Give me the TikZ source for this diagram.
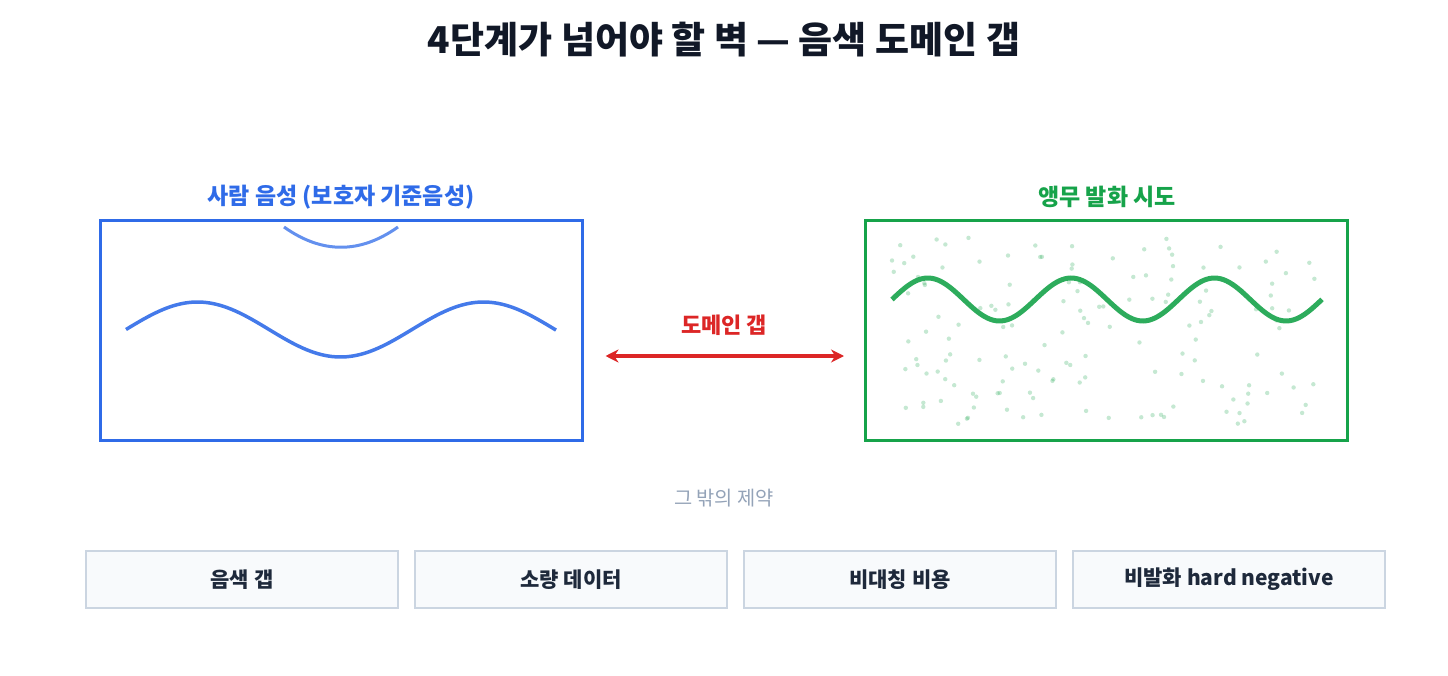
\documentclass[tikz,border=0pt]{standalone}
\usepackage{fontspec}
\setmainfont{Noto Sans CJK KR}
\usetikzlibrary{arrows.meta}

\definecolor{titletext}{HTML}{111827}
\definecolor{humanblue}{HTML}{2F6BE8}
\definecolor{parrotgreen}{HTML}{16A34A}
\definecolor{gapred}{HTML}{DC2626}
\definecolor{mutedgray}{HTML}{94A3B8}
\definecolor{limitfill}{HTML}{F8FAFC}
\definecolor{limitline}{HTML}{CBD5E1}
\definecolor{limittext}{HTML}{1E293B}

\tikzset{
  panel/.style={draw, rectangle, line width=3pt, minimum width=482pt, minimum height=219pt},
  panellabel/.style={font=\fontsize{23}{27}\selectfont\bfseries},
  limitbox/.style={draw=limitline, fill=limitfill, line width=2pt, rectangle,
    minimum width=312pt, minimum height=57pt, text=limittext,
    font=\fontsize{21}{25}\selectfont\bfseries},
  noise/.style={fill=parrotgreen, opacity=0.25}
}

\begin{document}
\begin{tikzpicture}[x=1pt, y=-1pt]
\useasboundingbox (0,0) rectangle (1448,676);

% Title
\node[text=titletext, font=\fontsize{37}{44}\selectfont\bfseries] (title) at (724,40) {4단계가 넘어야 할 벽 — 음색 도메인 갭};

% Human voice
\node[panel, draw=humanblue] (lbox) at (341,330.5) {};
\node[panellabel, text=humanblue] (llabel) at (341,197) {사람 음성 (보호자 기준음성)};
\draw[humanblue!75, line width=3pt] (284,227) .. controls (322,254) and (360,254) .. (398,227);
\draw[humanblue!90!white, line width=3.5pt, smooth, samples=120, domain=126:556]
  plot (\x, {329.5-27.5*sin(1.2587*(\x-126))});

% Parrot attempt
\node[panel, draw=parrotgreen] (rbox) at (1106.5,330.5) {};
\node[panellabel, text=parrotgreen] (rlabel) at (1107,197) {앵무 발화 시도};
\pgfmathsetseed{7}
\foreach \i in {1,...,150} {
  \pgfmathsetmacro{\dx}{892+428*rnd}
  \pgfmathsetmacro{\dy}{236+188*rnd}
  \fill[noise] (\dx,\dy) circle (2.2pt);
}
\draw[parrotgreen!90!white, line width=5pt, smooth, samples=150, domain=892:1322]
  plot (\x, {299.5-21.5*sin(2.5122*(\x-892))});

% Gap arrow
\draw[{Stealth[length=13pt,width=13pt]}-{Stealth[length=13pt,width=13pt]}, gapred, line width=4pt,
  shorten <=22pt, shorten >=20pt] ([yshift=-25.5pt]lbox.east) -- ([yshift=-25.5pt]rbox.west);
\node[text=gapred, font=\fontsize{22}{26}\selectfont\bfseries] (gaplabel) at (724,325) {도메인 갭};

% Other limits
\node[text=mutedgray, font=\fontsize{19.8}{24}\selectfont] (otherlabel) at (724,498) {그 밖의 제약};
\node[limitbox] (timbre) at (242,579.5) {음색 갭};
\node[limitbox] (fewdata) at (571,579.5) {소량 데이터};
\node[limitbox] (asymcost) at (900,579.5) {비대칭 비용};
\node[limitbox] (hardneg) at (1229,579.5) {비발화 hard negative};
\end{tikzpicture}
\end{document}
